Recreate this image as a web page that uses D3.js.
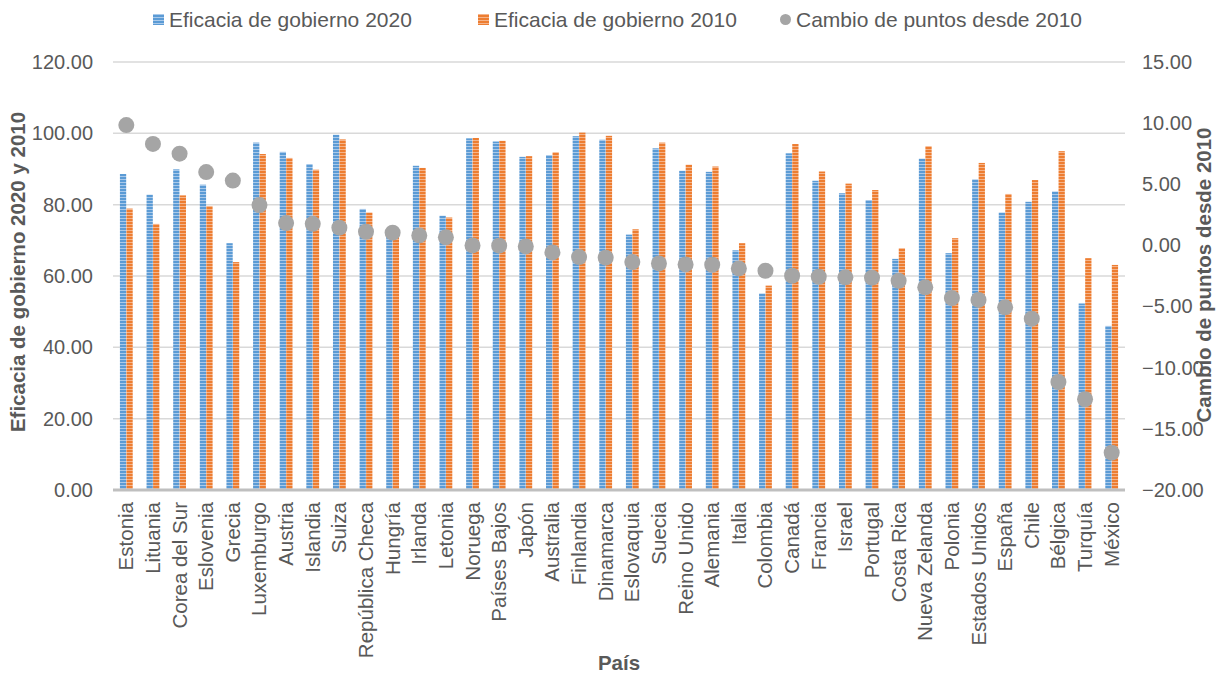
<!DOCTYPE html>
<html>
<head>
<meta charset="utf-8">
<script src="https://cdn.jsdelivr.net/npm/d3@7"></script>
<style>
  html, body { margin: 0; padding: 0; background: #fff; }
  svg { display: block; font-family: "Liberation Sans", Arial, sans-serif; }
</style>
</head>
<body>
<svg id="chart" width="1226" height="675"></svg>
<script>
// Countries, in chart order
const paises = ["Estonia","Lituania","Corea del Sur","Eslovenia","Grecia","Luxemburgo","Austria","Islandia","Suiza","República Checa","Hungría","Irlanda","Letonia","Noruega","Países Bajos","Japón","Australia","Finlandia","Dinamarca","Eslovaquia","Suecia","Reino Unido","Alemania","Italia","Colombia","Canadá","Francia","Israel","Portugal","Costa Rica","Nueva Zelanda","Polonia","Estados Unidos","España","Chile","Bélgica","Turquía","México"];

// Government effectiveness score, 2020
const eficacia2020 = [88.6,82.8,89.9,85.6,69.2,97.4,94.8,91.4,99.6,78.8,72.4,90.9,76.9,98.6,97.7,93.4,93.9,99.2,98.2,71.6,95.8,89.5,89.2,67.2,55.1,94.4,86.7,83.2,81.3,64.8,92.9,66.4,87.1,77.8,80.8,83.7,52.3,46.0];

// Government effectiveness score, 2010
const eficacia2010 = [78.9,74.6,82.6,79.6,63.9,94.2,93.1,89.8,98.3,77.8,71.4,90.3,76.4,98.7,97.9,93.6,94.7,100.2,99.3,73.1,97.4,91.2,90.7,69.2,57.3,97.0,89.3,85.9,84.1,67.8,96.4,70.6,91.7,83.0,86.9,95.0,65.0,63.1];

// Change in points since 2010 (right axis)
const cambio = [9.84,8.30,7.50,6.00,5.30,3.30,1.83,1.77,1.45,1.12,1.04,0.82,0.66,0.00,-0.02,-0.08,-0.57,-0.95,-1.00,-1.36,-1.47,-1.55,-1.58,-1.88,-2.07,-2.48,-2.56,-2.61,-2.64,-2.89,-3.43,-4.30,-4.46,-5.06,-5.99,-11.17,-12.58,-16.95];

// Axis ticks
const ticksIzq = [0,20,40,60,80,100,120];
const ticksDer = [-20,-15,-10,-5,0,5,10,15];

const series = ["Eficacia de gobierno 2020","Eficacia de gobierno 2010"];
const leyendaPuntos = "Cambio de puntos desde 2010";

const colores = { azul: "#5b9bd5", naranja: "#ed7d31", gris: "#a5a5a5", texto: "#595959" };

const svg = d3.select("#chart");
const plotL = 113, plotR = 1125, plotT = 62, plotB = 490;

// Striped fills for the bars
const defs = svg.append("defs");
function patron(id, color, claro) {
  const p = defs.append("pattern").attr("id", id)
    .attr("patternUnits", "userSpaceOnUse").attr("width", 4).attr("height", 3);
  p.append("rect").attr("width", 4).attr("height", 3).attr("fill", claro);
  p.append("rect").attr("width", 4).attr("height", 2).attr("fill", color);
}
patron("rayaAzul", colores.azul, "#a9c9ea");
patron("rayaNaranja", colores.naranja, "#f5b48a");

const x = d3.scaleBand().domain(paises).range([plotL, plotR]).paddingInner(0.5).paddingOuter(0.25);
const x1 = d3.scaleBand().domain([0, 1]).range([0, x.bandwidth()]).padding(0.04);
const yL = d3.scaleLinear().domain([0, 120]).range([plotB, plotT]);
const yR = d3.scaleLinear().domain([-20, 15]).range([plotB, plotT]);

// Gridlines
svg.append("g").selectAll("line").data(ticksIzq.filter(d => d > 0)).join("line")
  .attr("x1", plotL).attr("x2", plotR)
  .attr("y1", d => yL(d)).attr("y2", d => yL(d))
  .attr("stroke", "#d9d9d9").attr("stroke-width", 1.5);

// Bars
const datosBarras = paises.map((p, i) => ({ p, vals: [eficacia2020[i], eficacia2010[i]] }));
const grupos = svg.append("g").selectAll("g").data(datosBarras).join("g")
  .attr("transform", d => `translate(${x(d.p)},0)`);
grupos.selectAll("rect").data(d => d.vals.map((v, k) => ({ v, k }))).join("rect")
  .attr("x", d => x1(d.k))
  .attr("width", x1.bandwidth())
  .attr("y", d => yL(d.v))
  .attr("height", d => yL(0) - yL(d.v))
  .attr("fill", d => d.k === 0 ? "url(#rayaAzul)" : "url(#rayaNaranja)");

// Baseline
svg.append("line").attr("x1", plotL).attr("x2", plotR)
  .attr("y1", yL(0)).attr("y2", yL(0))
  .attr("stroke", "#bfbfbf").attr("stroke-width", 3);

// Change markers
svg.append("g").selectAll("circle").data(cambio).join("circle")
  .attr("cx", (d, i) => x(paises[i]) + x.bandwidth() / 2)
  .attr("cy", d => yR(d))
  .attr("r", 8)
  .attr("fill", colores.gris);

const fmt = d3.format(".2f");
const fs = 20.5;
const fsTicks = 20;

// Left axis
const ejeIzq = svg.append("g").attr("transform", `translate(${plotL},0)`)
  .call(d3.axisLeft(yL).tickValues(ticksIzq).tickFormat(fmt).tickSize(0).tickPadding(20));
ejeIzq.select(".domain").remove();
ejeIzq.selectAll("text").attr("font-size", fsTicks).attr("fill", colores.texto)
  .attr("font-family", "Liberation Sans, Arial, sans-serif");

// Right axis
const ejeDer = svg.append("g").attr("transform", `translate(${plotR},0)`)
  .call(d3.axisRight(yR).tickValues(ticksDer).tickFormat(fmt).tickSize(0).tickPadding(17));
ejeDer.select(".domain").remove();
ejeDer.selectAll("text").attr("font-size", fsTicks).attr("fill", colores.texto)
  .attr("font-family", "Liberation Sans, Arial, sans-serif");

// Category axis
const ejeX = svg.append("g").attr("transform", `translate(0,${plotB})`)
  .call(d3.axisBottom(x).tickSize(0));
ejeX.select(".domain").remove();
ejeX.selectAll("text")
  .attr("font-size", fs).attr("fill", colores.texto)
  .attr("font-family", "Liberation Sans, Arial, sans-serif")
  .attr("text-anchor", "end")
  .attr("dy", null)
  .attr("transform", "translate(7,12) rotate(-90)")
  .attr("x", 0).attr("y", 0);

// Axis titles
svg.append("text")
  .attr("transform", "translate(25,272) rotate(-90)")
  .attr("text-anchor", "middle").attr("font-weight", "bold")
  .attr("font-size", fs).attr("fill", colores.texto)
  .text("Eficacia de gobierno 2020 y 2010");

svg.append("text")
  .attr("transform", "translate(1211,275) rotate(-90)")
  .attr("text-anchor", "middle").attr("font-weight", "bold")
  .attr("font-size", fs).attr("fill", colores.texto)
  .text("Cambio de puntos desde 2010");

svg.append("text")
  .attr("x", (plotL + plotR) / 2).attr("y", 670)
  .attr("text-anchor", "middle").attr("font-weight", "bold")
  .attr("font-size", fs).attr("fill", colores.texto)
  .text("País");

// Legend
const leyenda = svg.append("g").attr("font-size", 21).attr("fill", colores.texto);
const itemsLeyenda = [
  { t: series[0], x: 153, tipo: "barra", c: "url(#rayaAzul)" },
  { t: series[1], x: 478, tipo: "barra", c: "url(#rayaNaranja)" },
  { t: leyendaPuntos, x: 780, tipo: "punto", c: colores.gris }
];
itemsLeyenda.forEach(it => {
  if (it.tipo === "barra") {
    leyenda.append("rect").attr("x", it.x).attr("y", 14).attr("width", 11).attr("height", 11).attr("fill", it.c);
  } else {
    leyenda.append("circle").attr("cx", it.x + 5.5).attr("cy", 19.5).attr("r", 5.5).attr("fill", it.c);
  }
  leyenda.append("text").attr("x", it.x + 16).attr("y", 27).text(it.t);
});
</script>
</body>
</html>
